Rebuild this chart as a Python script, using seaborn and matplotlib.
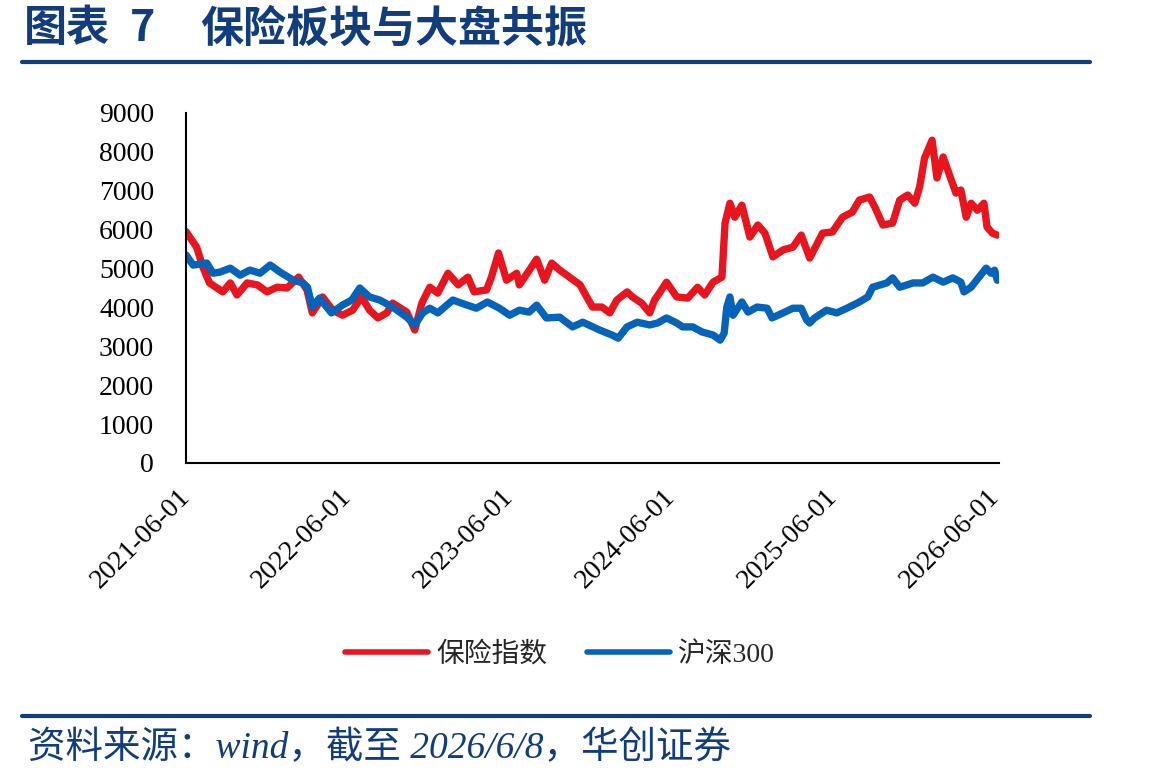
import pandas as pd
import numpy as np
import matplotlib.pyplot as plt
from matplotlib.lines import Line2D
import seaborn as sns

# 保险指数
ins_dates = ['2021-06-01', '2021-06-25', '2021-07-09', '2021-07-24', '2021-08-23', '2021-09-09',
             '2021-09-24', '2021-10-17', '2021-11-09', '2021-12-01', '2021-12-23', '2022-01-15',
             '2022-02-10', '2022-03-01', '2022-03-13', '2022-04-05', '2022-04-28', '2022-05-20',
             '2022-06-12', '2022-07-02', '2022-07-20', '2022-08-08', '2022-08-28', '2022-09-10',
             '2022-10-12', '2022-10-30', '2022-11-15', '2022-12-03', '2022-12-21', '2023-01-13',
             '2023-02-05', '2023-02-27', '2023-03-13', '2023-04-10', '2023-04-21', '2023-05-07',
             '2023-05-25', '2023-06-17', '2023-06-23', '2023-07-11', '2023-08-01', '2023-08-19',
             '2023-09-04', '2023-09-22', '2023-10-14', '2023-11-07', '2023-11-22', '2023-12-05',
             '2023-12-26', '2024-01-13', '2024-01-29', '2024-02-21', '2024-03-04', '2024-03-25',
             '2024-04-12', '2024-04-23', '2024-05-04', '2024-05-20', '2024-06-12', '2024-07-07',
             '2024-07-29', '2024-08-14', '2024-09-02', '2024-09-22', '2024-09-29', '2024-10-10',
             '2024-10-21', '2024-11-06', '2024-11-24', '2024-12-12', '2024-12-28', '2025-01-15',
             '2025-02-07', '2025-03-01', '2025-03-20', '2025-04-08', '2025-05-07', '2025-05-29',
             '2025-06-21', '2025-07-13', '2025-07-29', '2025-08-21', '2025-09-02', '2025-09-20',
             '2025-10-12', '2025-10-28', '2025-11-15', '2025-12-01', '2025-12-12', '2025-12-23',
             '2026-01-09', '2026-01-20', '2026-02-03', '2026-02-19', '2026-03-04', '2026-03-15',
             '2026-03-27', '2026-04-07', '2026-04-21', '2026-05-06', '2026-05-13', '2026-05-25',
             '2026-06-05']
ins_vals = [5950, 5550, 5040, 4630, 4400, 4630,
            4320, 4630, 4580, 4400, 4520, 4500,
            4780, 4450, 3860, 4270, 3930, 3800,
            3930, 4270, 3930, 3730, 3860, 4110,
            3880, 3420, 4110, 4520, 4370, 4880,
            4580, 4780, 4400, 4450, 4780, 5400,
            4700, 4880, 4580, 4880, 5240, 4700,
            5140, 4960, 4780, 4580, 4270, 4010,
            4010, 3860, 4190, 4400, 4270, 4110,
            3860, 4190, 4370, 4650, 4270, 4240,
            4520, 4320, 4650, 4780, 6170, 6680,
            6320, 6630, 5810, 6120, 5910, 5300,
            5480, 5550, 5860, 5270, 5910, 5940,
            6320, 6450, 6760, 6840, 6580, 6120,
            6170, 6760, 6890, 6680, 7100, 7840,
            8300, 7330, 7870, 7350, 6940, 7020,
            6320, 6680, 6500, 6680, 6070, 5910,
            5860]

# 沪深300
hs_dates = ['2021-06-01', '2021-06-17', '2021-07-18', '2021-08-01', '2021-08-17', '2021-09-09',
            '2021-10-01', '2021-10-23', '2021-11-15', '2021-12-08', '2021-12-30', '2022-01-29',
            '2022-02-20', '2022-03-02', '2022-03-13', '2022-03-29', '2022-04-25', '2022-05-20',
            '2022-06-10', '2022-06-28', '2022-07-20', '2022-08-12', '2022-09-10', '2022-10-12',
            '2022-10-30', '2022-11-17', '2022-12-03', '2022-12-21', '2023-01-24', '2023-02-25',
            '2023-03-18', '2023-04-12', '2023-05-09', '2023-06-01', '2023-06-23', '2023-07-15',
            '2023-08-01', '2023-08-23', '2023-09-22', '2023-10-21', '2023-11-13', '2023-12-21',
            '2024-01-18', '2024-02-01', '2024-02-21', '2024-03-15', '2024-04-12', '2024-04-30',
            '2024-05-20', '2024-06-12', '2024-06-25', '2024-07-18', '2024-08-08', '2024-09-02',
            '2024-09-18', '2024-09-27', '2024-10-03', '2024-10-10', '2024-10-17', '2024-11-06',
            '2024-11-20', '2024-12-10', '2025-01-02', '2025-01-13', '2025-02-07', '2025-03-01',
            '2025-03-20', '2025-04-01', '2025-04-08', '2025-04-19', '2025-05-16', '2025-06-08',
            '2025-07-01', '2025-07-29', '2025-08-17', '2025-08-28', '2025-09-29', '2025-10-12',
            '2025-10-28', '2025-11-27', '2025-12-19', '2026-01-11', '2026-02-03', '2026-02-25',
            '2026-03-15', '2026-03-22', '2026-04-07', '2026-04-25', '2026-05-11', '2026-05-22',
            '2026-05-30', '2026-06-05']
hs_vals = [5350, 5090, 5140, 4880, 4910, 5010,
           4830, 4960, 4880, 5090, 4910, 4700,
           4630, 4520, 4010, 4240, 3860, 4060,
           4190, 4500, 4270, 4190, 4010, 3750,
           3550, 3860, 3980, 3860, 4190, 4060,
           3980, 4140, 3980, 3800, 3930, 3880,
           4060, 3730, 3750, 3500, 3620, 3420,
           3290, 3210, 3500, 3620, 3550, 3600,
           3730, 3600, 3500, 3500, 3370, 3290,
           3160, 3340, 4010, 4270, 3800, 4140,
           3880, 4010, 3980, 3730, 3860, 3980,
           3980, 3680, 3600, 3730, 3930, 3860,
           3980, 4140, 4270, 4520, 4630, 4760,
           4520, 4630, 4630, 4780, 4650, 4760,
           4650, 4400, 4520, 4780, 5010, 4880,
           4960, 4700]

series_names = ['保险指数', '沪深300']
colors = ['#E8141E', '#0563BA']
xtick_labels = ['2021-06-01', '2022-06-01', '2023-06-01', '2024-06-01', '2025-06-01', '2026-06-01']
yticks = [0, 1000, 2000, 3000, 4000, 5000, 6000, 7000, 8000, 9000]

df = pd.concat([
    pd.DataFrame({'date': pd.to_datetime(ins_dates), 'value': ins_vals, 'name': series_names[0]}),
    pd.DataFrame({'date': pd.to_datetime(hs_dates), 'value': hs_vals, 'name': series_names[1]}),
])

sns.set_style('white')
plt.rcParams['font.family'] = ['Liberation Serif', 'Noto Sans CJK SC', 'DejaVu Sans']

navy = '#123D7C'
fig = plt.figure(figsize=(11.49, 7.84), dpi=100)
ax = fig.add_axes([186 / 1149, 1 - 463 / 784, (999 - 186) / 1149, (463 - 113) / 784])

sns.lineplot(data=df, x='date', y='value', hue='name', hue_order=series_names,
             palette=colors, linewidth=5.3, ax=ax, legend=False)

ax.set_xlim(pd.Timestamp('2021-06-01'), pd.Timestamp('2026-06-09'))
ax.set_ylim(0, 9000)
ax.set_yticks(yticks)
ax.set_xticks(pd.to_datetime(xtick_labels))
ax.set_xticklabels(xtick_labels, rotation=45, ha='right', va='center', rotation_mode='anchor')
ax.set_xlabel('')
ax.set_ylabel('')
for s in ['top', 'right']:
    ax.spines[s].set_visible(False)
for s in ['left', 'bottom']:
    ax.spines[s].set_linewidth(1.5)
    ax.spines[s].set_color('black')
ax.tick_params(axis='both', direction='out', length=6, width=1.5, labelsize=20, colors='black')
ax.tick_params(axis='y', pad=17)
ax.tick_params(axis='x', pad=16)

handles = [Line2D([], [], color=c, lw=4, solid_capstyle='round') for c in colors]
fig.legend(handles, series_names, loc='center', bbox_to_anchor=(560 / 1149, 1 - 655 / 784),
           ncol=2, frameon=False, handlelength=3.0, handletextpad=0.3,
           columnspacing=1.4, prop={'family': ['Liberation Serif', 'Noto Sans CJK SC'], 'size': 20})

# title and rules
title_kw = dict(color=navy, fontsize=31, fontweight='bold', family=['Noto Sans CJK SC'],
                va='center', ha='left')
fig.text(24 / 1149, 1 - 28 / 784, '图表', **title_kw)
fig.text(130 / 1149, 1 - 28 / 784, '7', **title_kw)
fig.text(200 / 1149, 1 - 28 / 784, '保险板块与大盘共振', **title_kw)
fig.add_artist(Line2D([22 / 1149, 1090 / 1149], [1 - 62 / 784] * 2, color=navy, lw=3,
                      transform=fig.transFigure))
fig.add_artist(Line2D([22 / 1149, 1090 / 1149], [1 - 716 / 784] * 2, color=navy, lw=3,
                      transform=fig.transFigure))
fig.text(28 / 1149, 1 - 748 / 784, '资料来源：wind，截至 2026/6/8，华创证券', color=navy,
         fontsize=27, style='italic', family=['Liberation Serif', 'Noto Sans CJK SC'],
         va='center', ha='left')

fig.savefig('out.png', dpi=100)
